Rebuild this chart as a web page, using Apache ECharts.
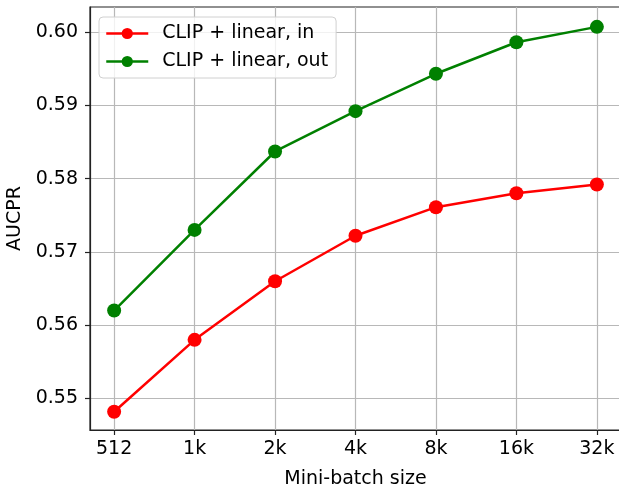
<!DOCTYPE html>
<html>
<head>
<meta charset="utf-8">
<script src="https://cdn.jsdelivr.net/npm/echarts@6/dist/echarts.min.js"></script>
<style>
  html, body { margin: 0; padding: 0; background: #fff; }
  #chart { width: 619px; height: 487px; }
</style>
</head>
<body>
<div id="chart"></div>
<script>
// batch sizes on the x axis
const batchSizes = ['512', '1k', '2k', '4k', '8k', '16k', '32k'];
// AUCPR values
const clipIn = [0.5482, 0.5580, 0.5660, 0.5722, 0.5761, 0.5780, 0.5792];
const clipOut = [0.5620, 0.5730, 0.5837, 0.5892, 0.5943, 0.5986, 0.6007];
const yTicks = [0.55, 0.56, 0.57, 0.58, 0.59, 0.60];
const xTicks = [0, 1, 2, 3, 4, 5, 6];

const font = 'DejaVu Sans';
const fs = 19;

const chart = echarts.init(document.getElementById('chart'));
chart.setOption({
  backgroundColor: '#fff',
  animation: false,
  textStyle: { fontFamily: font },
  grid: {
    left: 90,
    right: -2,
    top: 7,
    bottom: 57,
    show: true,
    borderColor: '#222',
    borderWidth: 1.2,
    containLabel: false,
    outerBoundsMode: 'none'
  },
  legend: {
    orient: 'vertical',
    left: 99,
    top: 17,
    padding: [7, 8, 7, 6],
    itemGap: 9,
    itemWidth: 42,
    itemHeight: 14,
    backgroundColor: 'rgba(255,255,255,0.8)',
    borderColor: '#d0d0d0',
    borderWidth: 1,
    borderRadius: 4,
    lineStyle: { width: 2.5 },
    textStyle: { fontSize: fs, color: '#000', fontFamily: font, padding: [0, 0, 0, 9] },
    data: ['CLIP + linear, in', 'CLIP + linear, out']
  },
  xAxis: {
    type: 'value',
    min: -0.3,
    max: 6.3,
    name: 'Mini-batch size',
    nameLocation: 'middle',
    nameGap: 40,
    nameTextStyle: { fontSize: fs, color: '#000', fontFamily: font },
    axisLine: { show: true, onZero: false, lineStyle: { color: '#222', width: 1.2 } },
    axisTick: { show: true, customValues: xTicks, length: 5, lineStyle: { color: '#222', width: 1.2 } },
    axisLabel: {
      customValues: xTicks,
      margin: 10,
      fontSize: fs,
      color: '#000',
      fontFamily: font,
      formatter: v => batchSizes[Math.round(v)]
    },
    splitLine: { show: true, lineStyle: { color: '#b8b8b8', width: 1.2 } }
  },
  yAxis: {
    type: 'value',
    min: 0.545703,
    max: 0.603411,
    name: 'AUCPR',
    nameLocation: 'middle',
    nameGap: 58,
    nameTextStyle: { fontSize: fs, color: '#000', fontFamily: font },
    axisLine: { show: true, onZero: false, lineStyle: { color: '#222', width: 1.2 } },
    axisTick: { show: true, customValues: yTicks, length: 5, lineStyle: { color: '#222', width: 1.2 } },
    axisLabel: {
      customValues: yTicks,
      margin: 12,
      fontSize: fs,
      color: '#000',
      fontFamily: font,
      formatter: v => v.toFixed(2)
    },
    splitLine: { show: true, lineStyle: { color: '#b8b8b8', width: 1.2 } }
  },
  series: [
    {
      name: 'CLIP + linear, in',
      type: 'line',
      data: clipIn.map((v, i) => [i, v]),
      color: '#ff0000',
      symbol: 'circle',
      symbolSize: 14,
      lineStyle: { width: 2.5 },
      clip: false
    },
    {
      name: 'CLIP + linear, out',
      type: 'line',
      data: clipOut.map((v, i) => [i, v]),
      color: '#008000',
      symbol: 'circle',
      symbolSize: 14,
      lineStyle: { width: 2.5 },
      clip: false
    }
  ]
});
</script>
</body>
</html>
